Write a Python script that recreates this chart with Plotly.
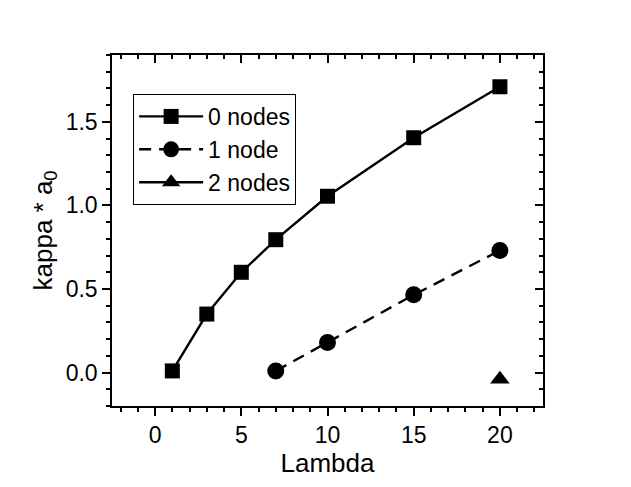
import plotly.graph_objects as go

x0 = [1, 3, 5, 7, 10, 15, 20]
y0 = [0.01, 0.35, 0.60, 0.795, 1.055, 1.405, 1.71]
x1 = [7, 10, 15, 20]
y1 = [0.01, 0.18, 0.465, 0.73]
x2 = [20]
y2 = [-0.04]
names = ["0 nodes", "1 node", "2 nodes"]

fig = go.Figure()
fig.add_trace(go.Scatter(x=x0, y=y0, name=names[0], mode="lines+markers",
                         line=dict(color="black", width=2.4),
                         marker=dict(symbol="square", size=15, color="black")))
fig.add_trace(go.Scatter(x=x1, y=y1, name=names[1], mode="lines+markers",
                         line=dict(color="black", width=2.4, dash="12px,8px"),
                         marker=dict(symbol="circle", size=17, color="black")))
fig.add_trace(go.Scatter(x=x2, y=y2, name=names[2], mode="lines+markers",
                         line=dict(color="black", width=2.4),
                         marker=dict(symbol="triangle-up", size=17, color="black")))
# invisible trace for mirrored axes
fig.add_trace(go.Scatter(x=[None], y=[None], xaxis="x2", yaxis="y2",
                         showlegend=False, hoverinfo="skip"))

font = "Liberation Sans, Arial, sans-serif"
common = dict(showline=True, linecolor="black", linewidth=1.5, showgrid=False,
              zeroline=False, tickcolor="black", tickwidth=1.5, ticklen=8)
minor_out = dict(ticks="outside", ticklen=4, tickcolor="black", tickwidth=1.5)
minor_in = dict(ticks="inside", ticklen=4, tickcolor="black", tickwidth=1.5)

fig.update_layout(
    width=631, height=487,
    margin=dict(l=112, r=88, t=55, b=81),
    paper_bgcolor="white", plot_bgcolor="white",
    font=dict(family=font, size=23, color="black"),
    showlegend=True,
    legend=dict(x=0.049, y=0.889, xanchor="left", yanchor="top",
                bordercolor="black", borderwidth=1, bgcolor="white",
                font=dict(size=23), itemwidth=64, tracegroupgap=0),
    xaxis=dict(range=[-2.5, 22.5], dtick=5, tick0=0, ticks="outside",
               title=dict(text="Lambda", standoff=4, font=dict(size=26)),
               minor=dict(dtick=1, **minor_out), **common),
    yaxis=dict(range=[-0.2, 1.9], dtick=0.5, tick0=0, ticks="outside",
               tickformat=".1f",
               title=dict(text="kappa * a<sub>0</sub>", standoff=6, font=dict(size=26)),
               minor=dict(dtick=0.1, **minor_out), **common),
    xaxis2=dict(overlaying="x", side="top", matches="x", range=[-2.5, 22.5],
                dtick=5, tick0=0, ticks="inside", showticklabels=False,
                minor=dict(dtick=1, **minor_in), **common),
    yaxis2=dict(overlaying="y", side="right", matches="y", range=[-0.2, 1.9],
                dtick=0.5, tick0=0, ticks="inside", showticklabels=False,
                minor=dict(dtick=0.1, **minor_in), **common),
)

fig.write_html("out.html", config={"displayModeBar": False},
               post_script="document.body.style.margin='0';")
